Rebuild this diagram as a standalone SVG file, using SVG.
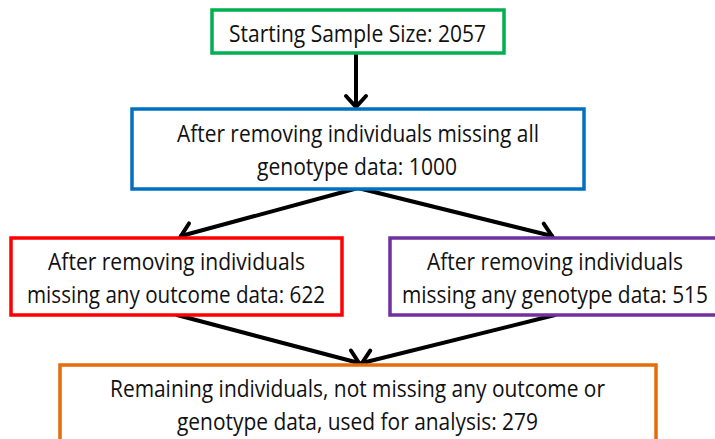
<svg xmlns="http://www.w3.org/2000/svg" width="715" height="439" viewBox="0 0 715 439">
<style>
.box{fill:#ffffff;stroke-width:3.5}
.t{font-family:"Open Sans","Liberation Sans",sans-serif;font-size:23px;fill:#111111;text-anchor:middle}
.c{stroke:#000000;stroke-width:4;fill:none;stroke-linecap:round}
</style>
<defs>
<marker id="ah" markerUnits="userSpaceOnUse" markerWidth="30" markerHeight="30" refX="15" refY="15" orient="auto" viewBox="0 0 30 30">
<path d="M4,5 L15,15 L4,25" fill="none" stroke="#000" stroke-width="4" stroke-linecap="round" stroke-linejoin="miter"/>
</marker>
</defs>
<rect width="715" height="439" fill="#ffffff"/>
<g id="connectors">
<line class="c" x1="356" y1="54" x2="356" y2="107" marker-end="url(#ah)"/>
<line class="c" x1="358" y1="188" x2="181" y2="236" marker-end="url(#ah)"/>
<line class="c" x1="358" y1="188" x2="552" y2="236" marker-end="url(#ah)"/>
<line class="c" x1="177" y1="315" x2="359" y2="363" marker-end="url(#ah)"/>
<line class="c" x1="555" y1="315" x2="362" y2="363" marker-end="url(#ah)"/>
</g>
<g id="start">
<rect class="box" x="212" y="10" width="292" height="43" stroke="#00b050"/>
<text class="t" x="357.5" y="42" textLength="257" lengthAdjust="spacingAndGlyphs">Starting Sample Size: 2057</text>
</g>
<g id="genotype-all">
<rect class="box" x="132" y="109" width="452" height="80" stroke="#0070c0"/>
<text class="t" x="358" y="142" textLength="362" lengthAdjust="spacingAndGlyphs">After removing individuals missing all</text>
<text class="t" x="357" y="175" textLength="200" lengthAdjust="spacingAndGlyphs">genotype data: 1000</text>
</g>
<g id="outcome">
<rect class="box" x="11" y="238" width="331" height="77" stroke="#ff0000"/>
<text class="t" x="176.5" y="270" textLength="257" lengthAdjust="spacingAndGlyphs">After removing individuals</text>
<text class="t" x="176" y="303" textLength="298" lengthAdjust="spacingAndGlyphs">missing any outcome data: 622</text>
</g>
<g id="genotype-any">
<rect class="box" x="390" y="238" width="330" height="77" stroke="#7030a0"/>
<text class="t" x="555" y="270" textLength="256" lengthAdjust="spacingAndGlyphs">After removing individuals</text>
<text class="t" x="555" y="303" textLength="306" lengthAdjust="spacingAndGlyphs">missing any genotype data: 515</text>
</g>
<g id="remaining">
<rect class="box" x="60" y="365" width="596" height="90" stroke="#e46c0a"/>
<text class="t" x="357.5" y="397" textLength="495" lengthAdjust="spacingAndGlyphs">Remaining individuals, not missing any outcome or</text>
<text class="t" x="357.5" y="430" textLength="361" lengthAdjust="spacingAndGlyphs">genotype data, used for analysis: 279</text>
</g>
</svg>
